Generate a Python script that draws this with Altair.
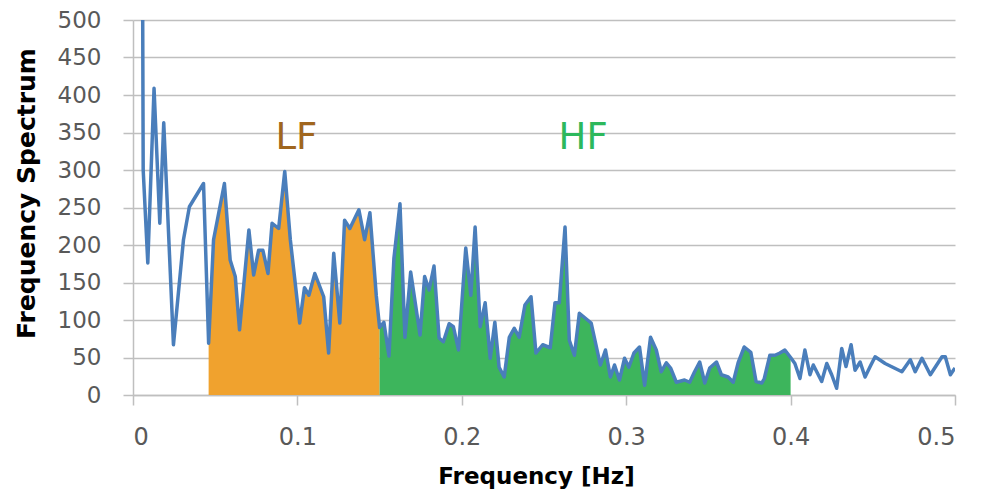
import altair as alt
import pandas as pd

freq = [0.0059, 0.0062, 0.009, 0.0128, 0.0163, 0.0187, 0.0246, 0.0307, 0.0343, 0.0429,
        0.046, 0.049, 0.0556, 0.0591, 0.0622, 0.0648, 0.0705, 0.0734, 0.0764, 0.079,
        0.0821, 0.0846, 0.0886, 0.0923, 0.0957, 0.1014, 0.1043, 0.107, 0.1106, 0.116,
        0.119, 0.1221, 0.1258, 0.1287, 0.1319, 0.1374, 0.1409, 0.1441, 0.148, 0.15,
        0.1526, 0.1557, 0.1587, 0.1624, 0.1654, 0.1689, 0.1746, 0.1774, 0.1801, 0.1831,
        0.1862, 0.1888, 0.1923, 0.1949, 0.198, 0.2024, 0.2055, 0.2081, 0.2112, 0.2142,
        0.2173, 0.2201, 0.2227, 0.2258, 0.2289, 0.2319, 0.2349, 0.2384, 0.2421, 0.2451,
        0.2492, 0.2538, 0.2567, 0.2593, 0.2628, 0.2654, 0.2685, 0.2715, 0.2787, 0.2843,
        0.2874, 0.2904, 0.2929, 0.2959, 0.299, 0.3016, 0.3047, 0.3081, 0.3112, 0.3148,
        0.3183, 0.3213, 0.3244, 0.327, 0.3305, 0.3355, 0.3386, 0.3416, 0.3447, 0.3478,
        0.3508, 0.3549, 0.3579, 0.362, 0.3651, 0.3681, 0.3718, 0.3758, 0.379, 0.3825,
        0.384, 0.3874, 0.3905, 0.3935, 0.3965, 0.4, 0.4026, 0.4057, 0.4087, 0.4118,
        0.4138, 0.4159, 0.4189, 0.422, 0.425, 0.428, 0.4311, 0.4337, 0.4368, 0.4392,
        0.4423, 0.4453, 0.4484, 0.4514, 0.4575, 0.4677, 0.4728, 0.4758, 0.4799, 0.485,
        0.4921, 0.4941, 0.4972, 0.5]
spectrum = [505, 300, 176, 409, 229, 363, 67, 207, 251, 282,
            69, 207, 282, 180, 158, 87, 220, 160, 193, 193,
            162, 229, 222, 298, 207, 96, 143, 133, 162, 131,
            56, 189, 96, 233, 222, 247, 207, 243, 132, 90,
            97, 52, 182, 255, 77, 164, 80, 158, 140, 172,
            76, 71, 95, 91, 60, 196, 133, 224, 91, 123,
            49, 97, 37, 24, 77, 89, 77, 120, 131, 56,
            67, 63, 123, 123, 224, 73, 53, 109, 96, 40,
            60, 24, 40, 20, 49, 37, 56, 64, 13, 77,
            60, 31, 43, 36, 17, 20, 17, 31, 44, 16,
            36, 44, 27, 24, 17, 43, 64, 57, 18, 16,
            22, 53, 53, 56, 60, 50, 42, 22, 60, 27,
            40, 31, 18, 42, 27, 9, 62, 38, 67, 33,
            44, 24, 38, 51, 42, 31, 47, 31, 49, 27,
            51, 51, 27, 36]

band_names = ["LF", "HF"]
band_lo = [0.046, 0.15]
band_hi = [0.15, 0.40]
band_fill = ["#F0A22E", "#3DB55C"]
label_color = ["#A0661E", "#2DB85C"]
label_x = [0.0994, 0.2738]
label_y = [343, 343]

x_ticks = [0, 0.1, 0.2, 0.3, 0.4, 0.5]
y_ticks = [0, 50, 100, 150, 200, 250, 300, 350, 400, 450, 500]

df = pd.DataFrame({"f": freq, "v": spectrum})
labels = pd.DataFrame({"name": band_names, "x": label_x, "y": label_y, "c": label_color})

xs = alt.Scale(domain=[0, 0.5], nice=False)
ys = alt.Scale(domain=[0, 500], nice=False)

xaxis = alt.Axis(values=x_ticks, format="~g", grid=False, title="Frequency [Hz]",
                 labelFontSize=24, labelColor="#595959", labelFont="DejaVu Sans",
                 labelPadding=20, tickSize=10, tickColor="#BFBFBF", domainColor="#BFBFBF",
                 tickWidth=1.5, domainWidth=1.5, labelOverlap=False,
                 titleFont="DejaVu Sans", titleFontSize=23, titleFontWeight="bold",
                 titleColor="#000000", titlePadding=16, titleX=403)
yaxis = alt.Axis(values=y_ticks, grid=True, gridColor="#BFBFBF", gridWidth=1.5,
                 title="Frequency Spectrum", labelOverlap=False,
                 labelFontSize=23, labelColor="#595959", labelFont="DejaVu Sans",
                 labelPadding=22, tickSize=10, tickColor="#BFBFBF", domainColor="#BFBFBF",
                 tickWidth=1.5, domainWidth=1.5,
                 titleFont="DejaVu Sans", titleFontSize=25, titleFontWeight="bold",
                 titleColor="#000000", titlePadding=18, titleY=173)

base = alt.Chart(df)

areas = []
for name, lo, hi, col in zip(band_names, band_lo, band_hi, band_fill):
    areas.append(
        base.transform_filter(f"datum.f >= {lo} && datum.f <= {hi}")
        .mark_area(color=col, opacity=1)
        .encode(x=alt.X("f:Q", scale=xs, axis=xaxis), y=alt.Y("v:Q", scale=ys, axis=yaxis))
    )

line = base.mark_line(color="#4A7EBB", strokeWidth=3.5, clip=True, strokeJoin="round").encode(
    x=alt.X("f:Q", scale=xs, axis=xaxis), y=alt.Y("v:Q", scale=ys, axis=yaxis)
)

text = alt.Chart(labels).mark_text(fontSize=37, font="DejaVu Sans", baseline="middle",
                                   align="center").encode(
    x=alt.X("x:Q", scale=xs, axis=xaxis), y=alt.Y("y:Q", scale=ys, axis=yaxis),
    text="name:N", color=alt.Color("c:N", scale=None)
)

chart = alt.layer(*areas, line, text).properties(
    width=822, height=375,
    autosize=alt.AutoSizeParams(type="none"),
    padding={"left": 125, "top": 12, "right": 19, "bottom": 100},
).configure_view(stroke=None)

chart.save("out.html", embed_options={"renderer": "svg", "actions": False})
